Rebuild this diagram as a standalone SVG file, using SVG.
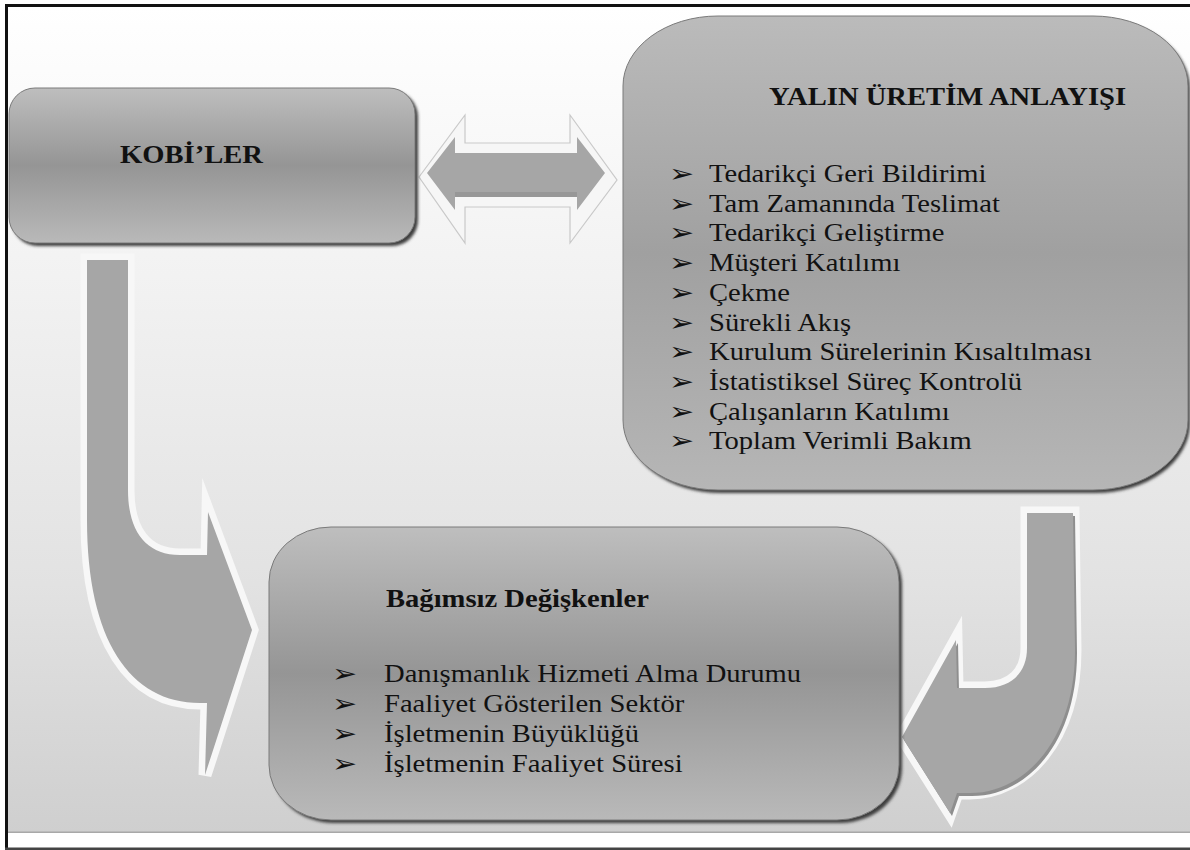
<svg xmlns="http://www.w3.org/2000/svg" width="1190" height="850" viewBox="0 0 1190 850">
<defs>
<linearGradient id="bg" x1="0" y1="0" x2="0" y2="1">
<stop offset="0" stop-color="#ffffff"/>
<stop offset="0.35" stop-color="#f1f1f1"/>
<stop offset="0.7" stop-color="#e2e2e2"/>
<stop offset="1" stop-color="#cfcfcf"/>
</linearGradient>
<linearGradient id="boxg" x1="0" y1="0" x2="0" y2="1">
<stop offset="0" stop-color="#bebebe"/>
<stop offset="0.5" stop-color="#959595"/>
<stop offset="1" stop-color="#b9b9b9"/>
</linearGradient>
<linearGradient id="boxy" x1="0" y1="0" x2="0" y2="1">
<stop offset="0" stop-color="#bbbbbb"/>
<stop offset="0.5" stop-color="#a0a0a0"/>
<stop offset="1" stop-color="#b6b6b6"/>
</linearGradient>
<filter id="blur" x="-5%" y="-5%" width="110%" height="110%">
<feGaussianBlur stdDeviation="1.5"/>
</filter>
</defs>
<style>
.shadow{fill:#3c3c3c;filter:url(#blur);}
.box{stroke:#7a7a7a;stroke-width:1;}
.title{font-family:"Liberation Serif","Times New Roman",serif;font-weight:bold;font-size:26px;fill:#111;}
.item{font-family:"Liberation Serif","Times New Roman",serif;font-size:26px;fill:#111;}
.bul{font-family:"DejaVu Sans",sans-serif;font-size:25px;fill:#111;}
.arrowOut{fill:#f7f7f7;stroke:#f7f7f7;stroke-width:13;stroke-linejoin:miter;stroke-miterlimit:6;}
.arrowFill{fill:#a6a6a6;}
.arrowShade{fill:#8e8e8e;}
</style>

<rect x="0" y="0" width="1190" height="850" fill="#ffffff"/>
<rect x="8" y="7" width="1182" height="825" fill="url(#bg)"/>
<rect x="8" y="831.5" width="1182" height="1.5" fill="#a8a8a8"/>
<rect x="5" y="4" width="1185" height="3" fill="#111"/>
<rect x="5" y="4" width="3" height="846" fill="#111"/>
<rect x="5" y="847.5" width="1185" height="2.5" fill="#444"/>

<g id="connectors">
<g id="arrow-double">
<path d="M419,177 L465,115 L465,143 L570,143 L570,115 L617,180 L570,243 L570,207 L465,207 L465,243 Z" fill="#f6f6f6" stroke="#c9c9c9" stroke-width="1.2"/>
<path d="M427,173 L455,137 L455,153 L577,153 L577,137 L605,173 L577,210 L577,197 L455,197 L455,210 Z" class="arrowFill"/>
<path d="M455,192 L577,192 L577,197 L455,197 Z" fill="#979797"/>
</g>
<g id="arrow-left">
<path d="M87,260 L128,260 L128,490 C128,530 145,555 180,555 L207,555 L208,512 L252,630 L205,775 L207,703 L200,703 C130,703 87,640 87,520 Z" class="arrowOut"/>
<path d="M87,260 L128,260 L128,490 C128,530 145,555 180,555 L207,555 L208,512 L252,630 L205,775 L207,703 L200,703 C130,703 87,640 87,520 Z" class="arrowFill"/>
</g>
<g id="arrow-right">
<path d="M1027,513 L1073,513 L1075,650 C1075,740 1025,793 970,793 L957,793 L950,813 L902,737 L956,640 L957,688 L985,688 C1012,688 1027,672 1027,648 Z" class="arrowOut"/>
<path d="M1029,516 L1075,516 L1077,653 C1077,743 1027,796 972,796 L959,796 L952,816 L904,740 L958,643 L959,691 L987,691 C1014,691 1029,675 1029,651 Z" class="arrowShade"/>
<path d="M1027,513 L1073,513 L1075,650 C1075,740 1025,793 970,793 L957,793 L950,813 L902,737 L956,640 L957,688 L985,688 C1012,688 1027,672 1027,648 Z" class="arrowFill"/>
</g>
</g>

<g id="node-kobiler">
<rect x="12" y="91" width="406" height="155" rx="26" ry="26" class="shadow"/>
<rect x="9" y="88" width="406" height="155" rx="26" ry="26" fill="url(#boxg)" class="box"/>
<text class="title" transform="translate(120,163) scale(1.1,1)">KOBİ’LER</text>
</g>

<g id="node-yalin">
<rect x="626" y="19" width="564" height="474" rx="95" ry="70" class="shadow"/>
<rect x="623" y="16" width="565" height="474" rx="95" ry="70" fill="url(#boxy)" class="box"/>
<text class="title" transform="translate(769,105) scale(1.1,1)">YALIN ÜRETİM ANLAYIŞI</text>
<text class="bul" transform="translate(669,182) scale(1.2,1)">➢</text>
<text class="bul" transform="translate(669,211.7) scale(1.2,1)">➢</text>
<text class="bul" transform="translate(669,241.4) scale(1.2,1)">➢</text>
<text class="bul" transform="translate(669,271.1) scale(1.2,1)">➢</text>
<text class="bul" transform="translate(669,300.8) scale(1.2,1)">➢</text>
<text class="bul" transform="translate(669,330.5) scale(1.2,1)">➢</text>
<text class="bul" transform="translate(669,360.2) scale(1.2,1)">➢</text>
<text class="bul" transform="translate(669,389.9) scale(1.2,1)">➢</text>
<text class="bul" transform="translate(669,419.6) scale(1.2,1)">➢</text>
<text class="bul" transform="translate(669,449.3) scale(1.2,1)">➢</text>
<text class="item" transform="translate(709,182) scale(1.1,1)">Tedarikçi Geri Bildirimi</text>
<text class="item" transform="translate(709,211.7) scale(1.1,1)">Tam Zamanında Teslimat</text>
<text class="item" transform="translate(709,241.4) scale(1.1,1)">Tedarikçi Geliştirme</text>
<text class="item" transform="translate(709,271.1) scale(1.1,1)">Müşteri Katılımı</text>
<text class="item" transform="translate(709,300.8) scale(1.1,1)">Çekme</text>
<text class="item" transform="translate(709,330.5) scale(1.1,1)">Sürekli Akış</text>
<text class="item" transform="translate(709,360.2) scale(1.1,1)">Kurulum Sürelerinin Kısaltılması</text>
<text class="item" transform="translate(709,389.9) scale(1.1,1)">İstatistiksel Süreç Kontrolü</text>
<text class="item" transform="translate(709,419.6) scale(1.1,1)">Çalışanların Katılımı</text>
<text class="item" transform="translate(709,449.3) scale(1.1,1)">Toplam Verimli Bakım</text>
</g>

<g id="node-bagimsiz">
<rect x="272" y="530" width="630" height="293" rx="62" ry="55" class="shadow"/>
<rect x="269" y="527" width="630" height="293" rx="62" ry="55" fill="url(#boxg)" class="box"/>
<text class="title" transform="translate(386,607) scale(1.1,1)">Bağımsız Değişkenler</text>
<text class="bul" transform="translate(332,682) scale(1.2,1)">➢</text>
<text class="bul" transform="translate(332,712) scale(1.2,1)">➢</text>
<text class="bul" transform="translate(332,742) scale(1.2,1)">➢</text>
<text class="bul" transform="translate(332,772) scale(1.2,1)">➢</text>
<text class="item" transform="translate(384,682) scale(1.1,1)">Danışmanlık Hizmeti Alma Durumu</text>
<text class="item" transform="translate(384,712) scale(1.1,1)">Faaliyet Gösterilen Sektör</text>
<text class="item" transform="translate(384,742) scale(1.1,1)">İşletmenin Büyüklüğü</text>
<text class="item" transform="translate(384,772) scale(1.1,1)">İşletmenin Faaliyet Süresi</text>
</g>
</svg>
